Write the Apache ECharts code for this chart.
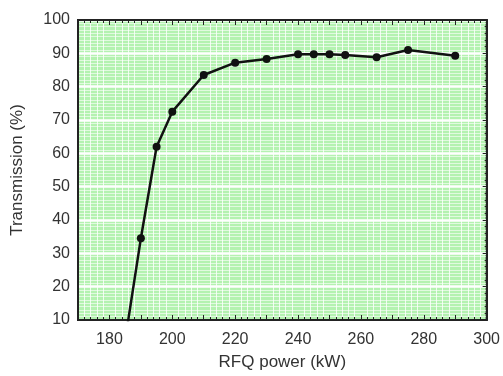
<!DOCTYPE html>
<html>
<head>
<meta charset="utf-8">
<script src="https://cdn.jsdelivr.net/npm/echarts@6/dist/echarts.min.js"></script>
<style>
  html, body { margin: 0; padding: 0; background: #fff; }
  #container { width: 503px; height: 376px; }
</style>
</head>
<body>
<div id="container"></div>
<script>
const power = [185, 190, 195, 200, 210, 220, 230, 240, 245, 250, 255, 265, 275, 290]
const transmission = [4, 34.5, 62, 72.5, 83.5, 87.2, 88.3, 89.7, 89.7, 89.7, 89.5, 88.8, 91, 89.3]

const xLabels = [180, 200, 220, 240, 260, 280, 300]

const chart = echarts.init(document.getElementById('container'))

const font = 'Liberation Sans, Arial, sans-serif'

const tickStyle = { color: '#222', width: 1 }

const frameAxis = {
    axisLine: { show: true, onZero: false, lineStyle: { color: '#222', width: 2 } }
}

chart.setOption({
    animation: false,
    grid: {
        left: 78,
        right: 15,
        top: 20,
        bottom: 56,
        show: true,
        backgroundColor: '#b4f2b0',
        borderColor: '#222',
        borderWidth: 2
    },
    xAxis: [
        {
            type: 'value',
            min: 170,
            max: 300,
            interval: 10,
            name: 'RFQ power (kW)',
            nameLocation: 'middle',
            nameGap: 34,
            nameTextStyle: { fontFamily: font, fontSize: 17, color: '#333' },
            ...frameAxis,
            axisTick: { inside: true, length: 5, lineStyle: tickStyle },
            minorTick: { show: true, splitNumber: 5, length: 3, lineStyle: tickStyle },
            axisLabel: {
                fontFamily: font,
                fontSize: 16,
                color: '#333',
                margin: 12,
                formatter: v => (xLabels.includes(v) ? String(v) : '')
            },
            splitLine: { show: false },
            minorSplitLine: { show: true, lineStyle: { color: 'rgba(255,255,255,0.8)', width: 1 } }
        },
        {
            type: 'value',
            position: 'top',
            min: 170,
            max: 300,
            interval: 10,
            ...frameAxis,
            axisTick: { inside: true, length: 5, lineStyle: tickStyle },
            minorTick: { show: true, splitNumber: 5, length: 3, lineStyle: tickStyle },
            axisLabel: { show: false },
            splitLine: { show: false }
        }
    ],
    yAxis: [
        {
            type: 'value',
            min: 10,
            max: 100,
            interval: 10,
            name: 'Transmission (%)',
            nameLocation: 'middle',
            nameGap: 52,
            nameTextStyle: { fontFamily: font, fontSize: 17, color: '#333' },
            ...frameAxis,
            axisTick: { show: false },
            axisLabel: { fontFamily: font, fontSize: 16, color: '#333', margin: 8 },
            splitLine: { show: true, lineStyle: { color: '#ffffff', width: 2.5 } },
            minorSplitLine: { show: true, lineStyle: { color: 'rgba(255,255,255,0.6)', width: 1 } },
            minorTick: { splitNumber: 10 }
        },
        {
            type: 'value',
            position: 'right',
            min: 10,
            max: 100,
            interval: 10,
            ...frameAxis,
            axisTick: { inside: true, length: 4, lineStyle: tickStyle },
            minorTick: { show: true, splitNumber: 5, length: 2, lineStyle: tickStyle },
            axisLabel: { show: false },
            splitLine: { show: false }
        }
    ],
    series: [
        {
            type: 'line',
            data: power.map((p, i) => [p, transmission[i]]),
            clip: true,
            symbol: 'circle',
            symbolSize: 8,
            lineStyle: { color: '#111', width: 2.5 },
            itemStyle: { color: '#111' }
        }
    ]
})
</script>
</body>
</html>
